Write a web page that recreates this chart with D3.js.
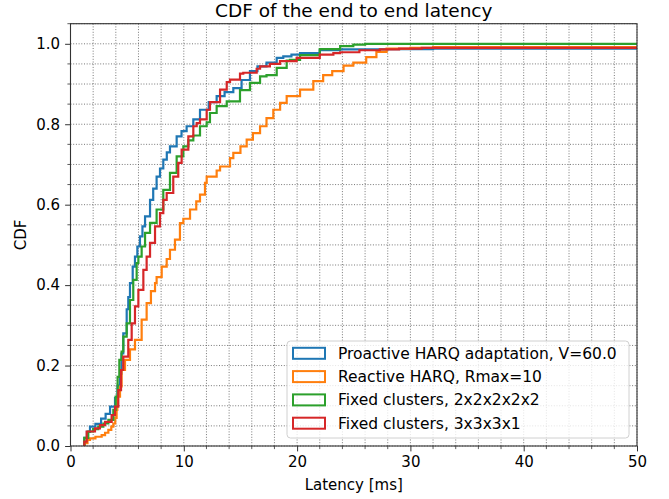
<!DOCTYPE html>
<html>
<head>
<meta charset="utf-8">
<title>CDF of the end to end latency</title>
<script src="https://cdn.jsdelivr.net/npm/d3@7"></script>
<style>
  body { margin: 0; background: #fff; }
  text { font-family: "DejaVu Sans", sans-serif; fill: #000; }
</style>
</head>
<body>
<svg width="669" height="499" id="mainsvg"></svg>
<script>
// series: [latency ms, cumulative probability] at each read step corner
const labels = ["Proactive HARQ adaptation, V=60.0", "Reactive HARQ, Rmax=10",
                "Fixed clusters, 2x2x2x2x2", "Fixed clusters, 3x3x3x1"];
const colors = ["#1f77b4", "#ff7f0e", "#2ca02c", "#d62728"];

const proactive = [[1.22,0.02],[1.45,0.035],[1.72,0.048],[2.2,0.055],[2.7,0.068],[3.1,0.08],[3.49,0.098],
  [3.93,0.12],[4.15,0.15],[4.37,0.18],[4.5,0.23],[4.66,0.28],[4.96,0.34],[5.1,0.37],[5.25,0.405],
  [5.49,0.446],[5.69,0.471],[5.9,0.496],[6.13,0.521],[6.35,0.546],[6.58,0.571],[7.02,0.612],[7.3,0.64],
  [7.6,0.67],[7.9,0.69],[8.19,0.712],[8.5,0.73],[8.78,0.745],[9.37,0.77],[9.8,0.783],[10.25,0.795],
  [10.84,0.812],[11.43,0.836],[12.2,0.855],[12.9,0.87],[13.6,0.88],[14.37,0.89],[15.1,0.91],[15.84,0.932],
  [16.5,0.944],[17.3,0.953],[18.2,0.965],[18.78,0.969],[19.5,0.973],[20.26,0.977],[22.0,0.984],
  [23.8,0.986],[28,0.987],[32,0.988]];
const reactive = [[1.25,0.007],[1.5,0.015],[1.72,0.019],[2.2,0.023],[2.75,0.027],[3.05,0.033],[3.34,0.04],
  [3.6,0.048],[3.78,0.056],[3.95,0.07],[4.07,0.09],[4.13,0.123],[4.37,0.148],[4.51,0.189],[4.81,0.214],
  [5.25,0.24],[5.69,0.264],[6.28,0.314],[6.72,0.355],[7.1,0.385],[7.46,0.405],[7.6,0.42],[8.05,0.446],
  [8.49,0.465],[8.78,0.488],[9.22,0.513],[9.66,0.554],[9.96,0.565],[10.55,0.588],[11.1,0.608],
  [11.43,0.625],[11.87,0.654],[12.02,0.67],[12.9,0.685],[13.2,0.695],[14.08,0.716],[14.37,0.729],
  [15.0,0.745],[15.55,0.762],[16.1,0.778],[16.73,0.795],[17.3,0.815],[17.9,0.836],[18.5,0.853],
  [19.08,0.87],[20.26,0.886],[21.43,0.907],[22.3,0.922],[23.1,0.932],[24.1,0.946],[24.96,0.953],
  [26.1,0.967],[27.0,0.98],[27.9,0.988],[30,0.99],[32,0.992]];
const fixed22222 = [[1.22,0.02],[1.57,0.036],[2.0,0.042],[2.45,0.048],[2.9,0.056],[3.34,0.065],[3.78,0.09],
  [3.99,0.123],[4.16,0.172],[4.31,0.214],[4.51,0.235],[4.66,0.272],[4.96,0.305],[5.25,0.363],[5.54,0.413],
  [5.84,0.455],[5.99,0.471],[6.28,0.496],[6.58,0.53],[7.02,0.555],[7.6,0.588],[8.19,0.637],[8.78,0.679],
  [9.37,0.72],[9.96,0.745],[10.4,0.76],[10.84,0.772],[11.43,0.795],[12.02,0.805],[12.31,0.828],
  [12.9,0.845],[13.79,0.857],[14.96,0.885],[15.84,0.903],[16.73,0.919],[17.3,0.922],[18.2,0.94],
  [19.08,0.958],[19.37,0.96],[20.26,0.972],[22,0.987],[23.8,0.994],[24.96,0.998],[26,1.0]];
const fixed3331 = [[1.22,0.011],[1.43,0.036],[2.16,0.044],[2.6,0.052],[3.05,0.06],[3.63,0.077],[3.93,0.098],
  [4.22,0.139],[4.46,0.189],[4.66,0.222],[5.1,0.264],[5.4,0.305],[5.69,0.347],[5.99,0.388],[6.43,0.438],
  [6.72,0.471],[7.02,0.505],[7.46,0.546],[7.9,0.579],[8.19,0.612],[8.49,0.629],[9.07,0.67],[9.51,0.704],
  [9.81,0.737],[10.4,0.77],[10.84,0.795],[11.14,0.803],[11.43,0.812],[12.02,0.836],[12.31,0.855],
  [13.2,0.886],[13.79,0.905],[14.08,0.911],[14.96,0.926],[15.25,0.928],[16.43,0.938],[16.73,0.944],
  [17.6,0.95],[18.49,0.957],[19.96,0.965],[22,0.973],[23.2,0.977],[23.8,0.979],[25.5,0.984],
  [27.3,0.986],[29,0.988],[31,0.99]];
const seriesList = [proactive, reactive, fixed22222, fixed3331];

const xTicks = [0, 10, 20, 30, 40, 50];
const yTicks = [0, 0.2, 0.4, 0.6, 0.8, 1.0];

const svg = d3.select("#mainsvg");
const width = +svg.attr("width");
const height = +svg.attr("height");
const margin = {top: 23.7, right: 32, bottom: 53, left: 70.5};
const innerW = width - margin.left - margin.right;
const innerH = height - margin.top - margin.bottom;

const x = d3.scaleLinear().domain([0, 50]).range([0, innerW]);
const y = d3.scaleLinear().domain([0, 1.05]).range([innerH, 0]);

const g = svg.append("g").attr("transform", `translate(${margin.left},${margin.top})`);

// grid (minor + major), dotted
const xMinor = d3.range(0, 50.01, 2);
const yMinor = d3.range(0, 1.051, 0.05);
g.append("g").selectAll("line").data(xMinor).join("line")
  .attr("x1", d => x(d)).attr("x2", d => x(d)).attr("y1", 0).attr("y2", innerH)
  .attr("stroke", "#555").attr("stroke-width", 0.8).attr("stroke-dasharray", "1,1.7");
g.append("g").selectAll("line").data(yMinor).join("line")
  .attr("y1", d => y(d)).attr("y2", d => y(d)).attr("x1", 0).attr("x2", innerW)
  .attr("stroke", "#555").attr("stroke-width", 0.8).attr("stroke-dasharray", "1,1.7");

// curves
const line = d3.line().x(d => x(d[0])).y(d => y(d[1])).curve(d3.curveStepAfter);
seriesList.forEach((s, i) => {
  const pts = [[s[0][0], 0]].concat(s, [[50, s[s.length - 1][1]]]);
  g.append("path").datum(pts)
    .attr("d", line)
    .attr("fill", "none")
    .attr("stroke", colors[i])
    .attr("stroke-width", 2.2)
    .attr("stroke-linejoin", "miter");
});

// axes
const xAxis = d3.axisBottom(x).tickValues(xTicks).tickFormat(d3.format("d")).tickSize(5.4).tickPadding(5);
const yAxis = d3.axisLeft(y).tickValues(yTicks).tickFormat(d3.format(".1f")).tickSize(5.4).tickPadding(5);
const xg = g.append("g").attr("transform", `translate(0,${innerH})`).call(xAxis);
const yg = g.append("g").call(yAxis);
[xg, yg].forEach(a => {
  a.select(".domain").remove();
  a.selectAll("text").attr("font-size", "15px").attr("font-family", "DejaVu Sans");
  a.selectAll("line").attr("stroke", "#333").attr("stroke-width", 1);
});
// minor ticks
g.append("g").selectAll("line").data(xMinor.filter(d => d % 10 !== 0)).join("line")
  .attr("x1", d => x(d)).attr("x2", d => x(d)).attr("y1", innerH).attr("y2", innerH + 3.1)
  .attr("stroke", "#333").attr("stroke-width", 0.8);
g.append("g").selectAll("line").data(yMinor.filter(d => Math.round(d * 100) % 20 !== 0)).join("line")
  .attr("y1", d => y(d)).attr("y2", d => y(d)).attr("x1", 0).attr("x2", -3.1)
  .attr("stroke", "#333").attr("stroke-width", 0.8);

// spines
g.append("rect").attr("width", innerW).attr("height", innerH)
  .attr("fill", "none").attr("stroke", "#333").attr("stroke-width", 1.1);

// labels
svg.append("text").attr("x", margin.left + innerW / 2).attr("y", 16.5)
  .attr("text-anchor", "middle").attr("font-size", "18.5px")
  .text("CDF of the end to end latency");
svg.append("text").attr("x", margin.left + innerW / 2).attr("y", 490)
  .attr("text-anchor", "middle").attr("font-size", "15px")
  .text("Latency [ms]");
svg.append("text").attr("transform", `translate(26,${margin.top + innerH / 2}) rotate(-90)`)
  .attr("text-anchor", "middle").attr("font-size", "15px")
  .text("CDF");

// legend
const lg = svg.append("g").attr("transform", "translate(287,341)");
lg.append("rect").attr("width", 342).attr("height", 97).attr("rx", 3.5)
  .attr("fill", "#fff").attr("fill-opacity", 0.8).attr("stroke", "#d0d0d0").attr("stroke-width", 1);
labels.forEach((lab, i) => {
  const row = lg.append("g").attr("transform", `translate(0,${12.3 + i * 23.3})`);
  row.append("rect").attr("x", 6).attr("y", -5.5).attr("width", 32).attr("height", 11)
    .attr("fill", "none").attr("stroke", colors[i]).attr("stroke-width", 2);
  row.append("text").attr("x", 51).attr("y", 5.3).attr("font-size", "15.5px").text(lab);
});
</script>
</body>
</html>
